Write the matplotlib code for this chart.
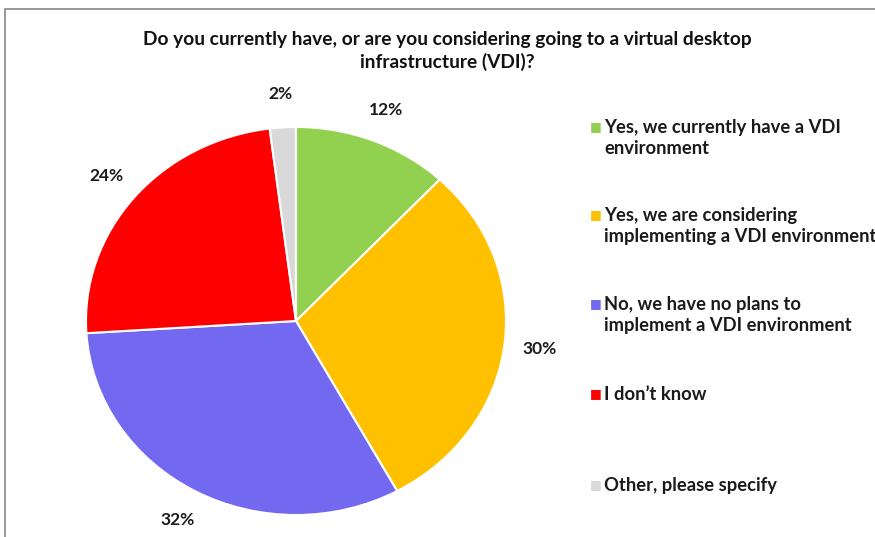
import matplotlib.pyplot as plt
from matplotlib.patches import Rectangle

# Survey answers
labels = [
    "Yes, we currently have a VDI\nenvironment",
    "Yes, we are considering\nimplementing a VDI environment",
    "No, we have no plans to\nimplement a VDI environment",
    "I don\u2019t know",
    "Other, please specify",
]
shares = [12, 30, 32, 24, 2]
colors = ["#92D050", "#FFC000", "#7369F0", "#FF0000", "#D9D9D9"]

plt.rcParams['font.family'] = ['Lato', 'DejaVu Sans']

fig = plt.figure(figsize=(8.75, 5.37), dpi=100)
fig.patch.set_facecolor("white")

# pie area in pixels: x 86..506, y 127..515
ax = fig.add_axes([86 / 875, 22 / 537, 420 / 875, 388 / 537])
wedges, texts, autotexts = ax.pie(
    shares, colors=colors, startangle=90, counterclock=False,
    autopct='%d%%', pctdistance=1.17,
    wedgeprops=dict(edgecolor="white", linewidth=1.5),
    textprops=dict(fontsize=12.5, fontweight="bold", color="#1a1a1a"),
)
ax.set_aspect('auto')
ax.set_xlim(-1, 1)
ax.set_ylim(-1, 1)

fig.text(0.511, 0.905,
         "Do you currently have, or are you considering going to a virtual desktop\ninfrastructure (VDI)?",
         ha="center", va="center", fontsize=13.8, fontweight="bold",
         color="#111111", linespacing=1.3)

# legend entries, placed by hand to follow the uneven spacing
ys = [138, 226, 315, 394, 485]
for lab, col, y in zip(labels, colors, ys):
    fig.text(590 / 875, 1 - y / 537 + (0.021 if "\n" in lab else 0), "\u25A0",
             color=col, fontsize=9, va="center", ha="left",
             family=['DejaVu Sans'])
    fig.text(604 / 875, 1 - y / 537, lab, fontsize=13.2, fontweight="bold",
             color="#1a1a1a", va="center", ha="left", linespacing=1.35)

# outer frame
fig.add_artist(Rectangle((5 / 875, -0.1), 1.0, 1 - 9 / 537 + 0.1,
                         transform=fig.transFigure, fill=False,
                         edgecolor="#888888", linewidth=1.2))

fig.savefig("out.png", dpi=100)
